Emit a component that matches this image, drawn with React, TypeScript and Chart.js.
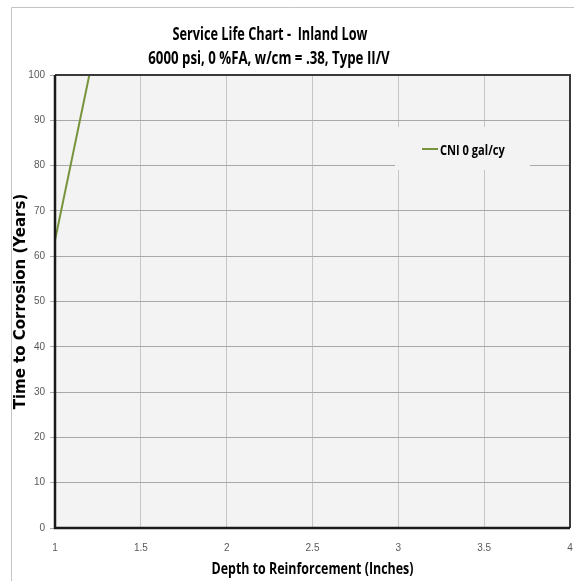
import React, { useEffect, useRef } from "react";
import { Chart, registerables } from "chart.js";

Chart.register(...registerables);

// ---- data ----
const depths = [1, 1.2];
const years = [63.5, 100];
const seriesLabel = "CNI 0 gal/cy";
const titleLine1 = "Service Life Chart -  Inland Low";
const titleLine2 = "6000 psi, 0 %FA, w/cm = .38, Type II/V";
const xAxisTitle = "Depth to Reinforcement (Inches)";
const yAxisTitle = "Time to Corrosion (Years)";
const xTicks = [1, 1.5, 2, 2.5, 3, 3.5, 4];
const yTicks = [0, 10, 20, 30, 40, 50, 60, 70, 80, 90, 100];

// ---- style ----
const HUMANIST = "'Open Sans', 'Noto Sans', sans-serif";
const TICK_FONT = "'Liberation Sans', Arial, sans-serif";
const LINE_COLOR = "#77933c";
const TITLE_SIZE = 17;
const TITLE1_WIDTH = 195; // rendered width of the first title line (condensed face look)

function condenseFactor(ctx: CanvasRenderingContext2D) {
  ctx.save();
  ctx.font = `bold ${TITLE_SIZE}px ${HUMANIST}`;
  const w = ctx.measureText(titleLine1).width;
  ctx.restore();
  return w > 0 ? TITLE1_WIDTH / w : 1;
}

function drawCond(
  ctx: CanvasRenderingContext2D,
  text: string,
  x: number,
  y: number,
  size: number,
  align: CanvasTextAlign,
  k: number
) {
  ctx.save();
  ctx.font = `bold ${size}px ${HUMANIST}`;
  ctx.fillStyle = "#000000";
  ctx.textAlign = align;
  ctx.textBaseline = "alphabetic";
  ctx.translate(x, y);
  ctx.scale(k, 1);
  ctx.fillText(text, 0, 0);
  ctx.restore();
}

const decorPlugin = {
  id: "decor",
  beforeDraw(chart: any) {
    const { ctx, chartArea: a, width, height } = chart;
    ctx.save();
    ctx.fillStyle = "#ffffff";
    ctx.fillRect(0, 0, width, height);
    ctx.strokeStyle = "#c4c4c4";
    ctx.lineWidth = 1;
    ctx.beginPath();
    ctx.moveTo(11.5, height);
    ctx.lineTo(11.5, 7.5);
    ctx.lineTo(width, 7.5);
    ctx.stroke();
    ctx.fillStyle = "#f3f3f3";
    ctx.fillRect(a.left, a.top, a.right - a.left, a.bottom - a.top);
    ctx.restore();
  },
  afterDraw(chart: any) {
    const { ctx, chartArea: a } = chart;
    const k = condenseFactor(ctx);
    ctx.save();
    // top & right border
    ctx.strokeStyle = "#3a3a3a";
    ctx.lineWidth = 2;
    ctx.beginPath();
    ctx.moveTo(a.left, a.top);
    ctx.lineTo(a.right, a.top);
    ctx.lineTo(a.right, a.bottom);
    ctx.stroke();
    // left & bottom axis lines
    ctx.strokeStyle = "#1a1a1a";
    ctx.lineWidth = 2.5;
    ctx.beginPath();
    ctx.moveTo(a.left, a.top);
    ctx.lineTo(a.left, a.bottom);
    ctx.lineTo(a.right, a.bottom);
    ctx.stroke();
    ctx.restore();

    // chart titles
    drawCond(ctx, titleLine1, 270, a.top - 35.5, TITLE_SIZE, "center", k);
    drawCond(ctx, titleLine2, 269, a.top - 11, 17.7, "center", k);
    // x axis title
    drawCond(ctx, xAxisTitle, (a.left + a.right) / 2, a.bottom + 46, 16.6, "center", k);

    // legend box
    const lx = a.left + 340;
    const ly = a.top + 52;
    const lw = 135;
    const lh = 43;
    ctx.save();
    ctx.fillStyle = "#f3f3f3";
    ctx.fillRect(lx, ly, lw, lh);
    const ds = chart.data.datasets[0];
    const cy = ly + 22;
    ctx.strokeStyle = ds.borderColor;
    ctx.lineWidth = 2;
    ctx.beginPath();
    ctx.moveTo(lx + 27, cy);
    ctx.lineTo(lx + 43, cy);
    ctx.stroke();
    ctx.restore();
    drawCond(ctx, ds.label, lx + 45, cy + 5.5, 14.8, "left", k);
  },
};

export default function App() {
  const ref = useRef<HTMLCanvasElement>(null);

  useEffect(() => {
    if (!ref.current) return;
    const chart = new Chart(ref.current, {
      type: "scatter",
      data: {
        datasets: [
          {
            label: seriesLabel,
            data: depths.map((d, i) => ({ x: d, y: years[i] })),
            showLine: true,
            borderColor: LINE_COLOR,
            backgroundColor: LINE_COLOR,
            borderWidth: 2,
            pointRadius: 0,
          },
        ],
      },
      options: {
        animation: false,
        responsive: false,
        layout: { padding: { left: 0, right: 4, top: 75, bottom: 0 } },
        plugins: {
          legend: { display: false },
          tooltip: { enabled: false },
          title: { display: false },
        },
        scales: {
          x: {
            type: "linear",
            min: xTicks[0],
            max: xTicks[xTicks.length - 1],
            afterBuildTicks: (s: any) => {
              s.ticks = xTicks.map((v) => ({ value: v }));
            },
            afterFit: (s: any) => {
              s.height = 53;
              s.paddingRight = 0;
              s.paddingLeft = 0;
            },
            border: { display: false },
            grid: { color: "#c6c6c6", lineWidth: 1, drawTicks: false },
            ticks: {
              color: "#595959",
              font: { family: TICK_FONT, size: 10 },
              padding: 14,
              maxRotation: 0,
              callback: (v: any) => String(v),
            },
            title: { display: false },
          },
          y: {
            type: "linear",
            min: yTicks[0],
            max: yTicks[yTicks.length - 1],
            afterBuildTicks: (s: any) => {
              s.ticks = yTicks.map((v) => ({ value: v }));
            },
            afterFit: (s: any) => {
              s.width = 55;
            },
            border: { display: false },
            grid: { color: "#a8a8a8", lineWidth: 1, drawTicks: true, tickLength: 5 },
            ticks: {
              color: "#595959",
              font: { family: TICK_FONT, size: 10 },
              padding: 5,
              callback: (v: any) => String(v),
            },
            title: {
              display: true,
              text: yAxisTitle,
              color: "#000",
              font: { family: "'DejaVu Sans', Verdana, sans-serif", size: 15, weight: "bold", lineHeight: 1.2 },
              padding: { top: 12, bottom: 0 },
            },
          },
        },
      },
      plugins: [decorPlugin],
    });
    return () => chart.destroy();
  }, []);

  return (
    <div style={{ position: "absolute", left: 0, top: 0, width: 574, height: 581 }}>
      <canvas ref={ref} width={574} height={581} style={{ display: "block" }} />
    </div>
  );
}
